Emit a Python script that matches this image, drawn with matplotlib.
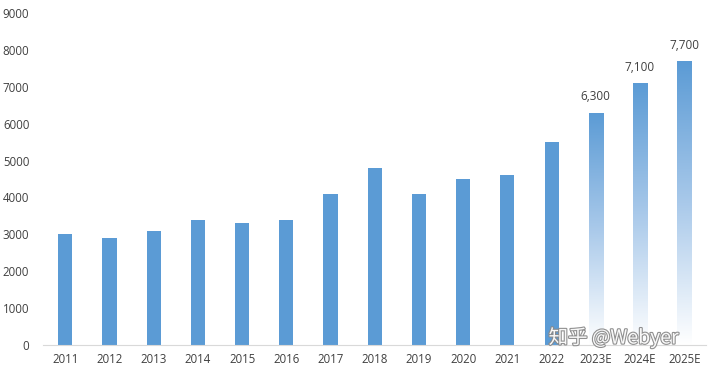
import matplotlib
matplotlib.use("Agg")
import matplotlib.pyplot as plt
import matplotlib.patheffects as pe
import numpy as np
from matplotlib.colors import LinearSegmentedColormap

plt.rcParams['font.family'] = ['Open Sans', 'Noto Sans CJK SC', 'DejaVu Sans']

categories = ['2011', '2012', '2013', '2014', '2015', '2016', '2017', '2018',
              '2019', '2020', '2021', '2022', '2023E', '2024E', '2025E']
values = [3000, 2900, 3100, 3400, 3300, 3400, 4100, 4800, 4100, 4500, 4600,
          5500, 6300, 7100, 7700]
forecast = [False] * 12 + [True] * 3
labels = ['', '', '', '', '', '', '', '', '', '', '', '', '6,300', '7,100', '7,700']

color = '#5B9BD5'
fig = plt.figure(figsize=(7.2, 3.74), dpi=100)
ax = fig.add_axes([0.06, 0.078, 0.921, 0.887])
x = np.arange(len(categories))
w = 0.32
cmap = LinearSegmentedColormap.from_list('g', ['#ffffff', '#a9c9ea', color])
grad = np.linspace(0, 1, 256).reshape(-1, 1)
for xi, v, f, lab in zip(x, values, forecast, labels):
    if not f:
        ax.bar(xi, v, width=w, color=color, zorder=2)
    else:
        b = ax.bar(xi, v, width=w, color='none', zorder=2)
        im = ax.imshow(grad, cmap=cmap, aspect='auto', origin='lower',
                       extent=[xi - w / 2, xi + w / 2, 0, v], zorder=2)
        im.set_clip_path(b[0])
    if lab:
        ax.text(xi, v + 250, lab, ha='center', va='bottom', fontsize=8.5, color='#404040')

ax.set_xlim(-0.5, len(categories) - 0.5)
ax.set_ylim(0, 9000)
ax.set_yticks(range(0, 9001, 1000))
ax.set_xticks(x)
ax.set_xticklabels(categories)
for s in ['top', 'right', 'left']:
    ax.spines[s].set_visible(False)
ax.spines['bottom'].set_color('#d9d9d9')
ax.tick_params(axis='both', length=0, labelsize=8.3, labelcolor='#404040')
ax.tick_params(axis='y', pad=10)
ax.tick_params(axis='x', pad=6)

t = fig.text(0.762, 0.068, '知乎 @Webyer', fontsize=14, color='#ffffff', alpha=0.95,
             family=['Noto Sans CJK SC', 'DejaVu Sans'], ha='left', va='bottom')
t.set_path_effects([pe.withStroke(linewidth=1.6, foreground='#8a8a8a')])

fig.savefig('out.png', dpi=100, facecolor='white')
